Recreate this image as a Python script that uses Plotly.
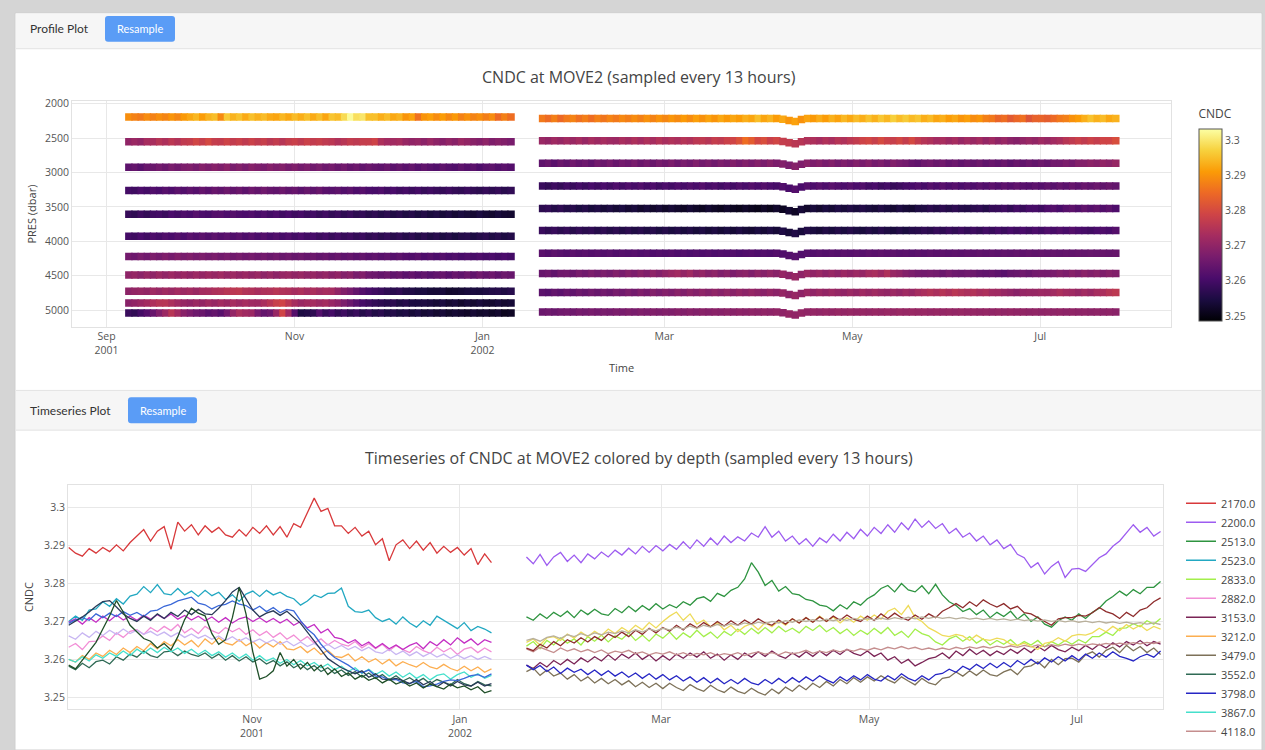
import pandas as pd
import plotly.graph_objects as go

W, H = 1265, 750

# ---------------- data ----------------
dep1_start = "2001-09-08 06:00"
dep2_start = "2002-01-20 12:00"
step = "2D"

# tick labels
profile_tick_dates = ["2001-09-01", "2001-11-01", "2002-01-01", "2002-03-01", "2002-05-01", "2002-07-01"]
profile_tick_text = ["Sep<br>2001", "Nov", "Jan<br>2002", "Mar", "May", "Jul"]
ts_tick_dates = ["2001-11-01", "2002-01-01", "2002-03-01", "2002-05-01", "2002-07-01"]
ts_tick_text = ["Nov<br>2001", "Jan<br>2002", "Mar", "May", "Jul"]

# deployment 1 (Sep 2001 - Jan 2002)
cndc_2170 = [3.2895, 3.2880, 3.2872, 3.2892, 3.2880, 3.2895, 3.2884, 3.2902, 3.2886, 3.2908,
             3.2925, 3.2942, 3.2912, 3.2938, 3.2950, 3.2890, 3.2962, 3.2938, 3.2955, 3.2928,
             3.2952, 3.2935, 3.2948, 3.2928, 3.2922, 3.2942, 3.2925, 3.2948, 3.2932, 3.2952,
             3.2928, 3.2950, 3.2922, 3.2958, 3.2948, 3.2985, 3.3025, 3.2990, 3.2998, 3.2952,
             3.2952, 3.2932, 3.2948, 3.2925, 3.2938, 3.2902, 3.2918, 3.2860, 3.2902, 3.2915,
             3.2892, 3.2912, 3.2888, 3.2908, 3.2880, 3.2898, 3.2882, 3.2895, 3.2875, 3.2892,
             3.2850, 3.2878, 3.2855]
cndc_2523 = [3.2700, 3.2714, 3.2703, 3.2730, 3.2733, 3.2752, 3.2740, 3.2760, 3.2746, 3.2767,
             3.2772, 3.2792, 3.2776, 3.2797, 3.2773, 3.2770, 3.2787, 3.2770, 3.2780, 3.2766,
             3.2782, 3.2768, 3.2777, 3.2758, 3.2770, 3.2753, 3.2772, 3.2780, 3.2766, 3.2782,
             3.2770, 3.2777, 3.2766, 3.2760, 3.2743, 3.2754, 3.2770, 3.2763, 3.2774, 3.2775,
             3.2788, 3.2740, 3.2726, 3.2724, 3.2730, 3.2710, 3.2700, 3.2707, 3.2693, 3.2712,
             3.2696, 3.2685, 3.2702, 3.2690, 3.2714, 3.2703, 3.2690, 3.2681, 3.2697, 3.2676,
             3.2687, 3.2680, 3.2670]
cndc_2882 = [3.2632, 3.2642, 3.2626, 3.2647, 3.2648, 3.2662, 3.2650, 3.2670, 3.2658, 3.2674,
             3.2678, 3.2666, 3.2684, 3.2673, 3.2687, 3.2676, 3.2692, 3.2670, 3.2682, 3.2668,
             3.2687, 3.2676, 3.2668, 3.2684, 3.2673, 3.2682, 3.2666, 3.2678, 3.2663, 3.2674,
             3.2658, 3.2670, 3.2653, 3.2664, 3.2648, 3.2660, 3.2643, 3.2654, 3.2638, 3.2650,
             3.2640, 3.2635, 3.2647, 3.2630, 3.2642, 3.2628, 3.2640, 3.2623, 3.2637, 3.2626,
             3.2618, 3.2634, 3.2623, 3.2616, 3.2632, 3.2620, 3.2630, 3.2613, 3.2627, 3.2632,
             3.2618, 3.2630, 3.2620]
cndc_3212 = [3.2600, 3.2593, 3.2610, 3.2600, 3.2617, 3.2608, 3.2624, 3.2613, 3.2630, 3.2618,
             3.2634, 3.2623, 3.2642, 3.2628, 3.2647, 3.2636, 3.2652, 3.2638, 3.2650, 3.2633,
             3.2654, 3.2640, 3.2657, 3.2643, 3.2638, 3.2652, 3.2636, 3.2647, 3.2630, 3.2644,
             3.2633, 3.2647, 3.2628, 3.2625, 3.2634, 3.2618, 3.2630, 3.2613, 3.2624, 3.2608,
             3.2605, 3.2614, 3.2596, 3.2607, 3.2593, 3.2602, 3.2588, 3.2600, 3.2583, 3.2594,
             3.2586, 3.2580, 3.2592, 3.2580, 3.2575, 3.2587, 3.2576, 3.2570, 3.2582, 3.2570,
             3.2580, 3.2566, 3.2575]
cndc_3552 = [3.2582, 3.2573, 3.2590, 3.2578, 3.2594, 3.2598, 3.2588, 3.2607, 3.2598, 3.2614,
             3.2606, 3.2622, 3.2610, 3.2605, 3.2620, 3.2622, 3.2610, 3.2622, 3.2613, 3.2608,
             3.2617, 3.2603, 3.2614, 3.2598, 3.2610, 3.2596, 3.2607, 3.2593, 3.2602, 3.2588,
             3.2597, 3.2583, 3.2594, 3.2578, 3.2588, 3.2573, 3.2584, 3.2568, 3.2578, 3.2563,
             3.2572, 3.2558, 3.2568, 3.2553, 3.2564, 3.2550, 3.2560, 3.2546, 3.2557, 3.2543,
             3.2552, 3.2540, 3.2550, 3.2536, 3.2547, 3.2540, 3.2533, 3.2547, 3.2536, 3.2530,
             3.2542, 3.2533, 3.2530]
cndc_3867 = [3.2600, 3.2593, 3.2607, 3.2596, 3.2612, 3.2603, 3.2617, 3.2608, 3.2622, 3.2610,
             3.2627, 3.2616, 3.2630, 3.2618, 3.2632, 3.2620, 3.2630, 3.2616, 3.2627, 3.2613,
             3.2624, 3.2610, 3.2620, 3.2606, 3.2617, 3.2603, 3.2614, 3.2598, 3.2610, 3.2596,
             3.2604, 3.2590, 3.2600, 3.2586, 3.2597, 3.2583, 3.2592, 3.2578, 3.2588, 3.2573,
             3.2582, 3.2568, 3.2578, 3.2563, 3.2574, 3.2560, 3.2570, 3.2556, 3.2567, 3.2553,
             3.2564, 3.2550, 3.2560, 3.2546, 3.2558, 3.2562, 3.2548, 3.2560, 3.2567, 3.2553,
             3.2562, 3.2550, 3.2558]
cndc_4172 = [3.2662, 3.2653, 3.2670, 3.2658, 3.2674, 3.2663, 3.2677, 3.2666, 3.2680, 3.2668,
             3.2677, 3.2666, 3.2674, 3.2663, 3.2672, 3.2660, 3.2670, 3.2658, 3.2667, 3.2656,
             3.2664, 3.2653, 3.2662, 3.2650, 3.2660, 3.2648, 3.2657, 3.2646, 3.2654, 3.2643,
             3.2652, 3.2640, 3.2648, 3.2636, 3.2646, 3.2634, 3.2642, 3.2630, 3.2640, 3.2628,
             3.2637, 3.2626, 3.2634, 3.2623, 3.2632, 3.2620, 3.2616, 3.2627, 3.2613, 3.2622,
             3.2610, 3.2620, 3.2608, 3.2617, 3.2606, 3.2614, 3.2603, 3.2612, 3.2602, 3.2610,
             3.2600, 3.2608, 3.2600]
cndc_4432 = [3.2698, 3.2707, 3.2693, 3.2710, 3.2698, 3.2714, 3.2702, 3.2717, 3.2704, 3.2714,
             3.2703, 3.2716, 3.2706, 3.2718, 3.2708, 3.2720, 3.2706, 3.2716, 3.2704, 3.2714,
             3.2702, 3.2712, 3.2698, 3.2710, 3.2696, 3.2707, 3.2712, 3.2700, 3.2710, 3.2698,
             3.2708, 3.2696, 3.2706, 3.2690, 3.2700, 3.2683, 3.2692, 3.2670, 3.2680, 3.2658,
             3.2654, 3.2643, 3.2652, 3.2636, 3.2646, 3.2630, 3.2642, 3.2628, 3.2638, 3.2626,
             3.2637, 3.2644, 3.2628, 3.2647, 3.2636, 3.2652, 3.2638, 3.2657, 3.2643, 3.2654,
             3.2638, 3.2652, 3.2645]
cndc_4668 = [3.2695, 3.2704, 3.2710, 3.2703, 3.2720, 3.2710, 3.2722, 3.2713, 3.2726, 3.2716,
             3.2724, 3.2713, 3.2727, 3.2730, 3.2740, 3.2745, 3.2754, 3.2760, 3.2764, 3.2748,
             3.2744, 3.2733, 3.2742, 3.2745, 3.2754, 3.2746, 3.2742, 3.2730, 3.2740, 3.2726,
             3.2737, 3.2723, 3.2732, 3.2728, 3.2702, 3.2680, 3.2665, 3.2640, 3.2620, 3.2605,
             3.2595, 3.2585, 3.2572, 3.2565, 3.2572, 3.2556, 3.2554, 3.2546, 3.2547, 3.2538,
             3.2537, 3.2542, 3.2528, 3.2530, 3.2535, 3.2542, 3.2546, 3.2544, 3.2550, 3.2557,
             3.2560, 3.2553, 3.2562]
cndc_4834 = [3.2690, 3.2700, 3.2712, 3.2725, 3.2740, 3.2752, 3.2755, 3.2738, 3.2720, 3.2708,
             3.2700, 3.2714, 3.2703, 3.2720, 3.2708, 3.2724, 3.2713, 3.2730, 3.2718, 3.2732,
             3.2720, 3.2718, 3.2735, 3.2755, 3.2778, 3.2790, 3.2760, 3.2730, 3.2712, 3.2722,
             3.2728, 3.2716, 3.2727, 3.2710, 3.2695, 3.2672, 3.2650, 3.2625, 3.2602, 3.2590,
             3.2578, 3.2570, 3.2562, 3.2570, 3.2553, 3.2562, 3.2548, 3.2547, 3.2550, 3.2544,
             3.2536, 3.2547, 3.2533, 3.2542, 3.2528, 3.2540, 3.2530, 3.2542, 3.2533, 3.2530,
             3.2540, 3.2530, 3.2536]
cndc_4977 = [3.2585, 3.2575, 3.2598, 3.2620, 3.2645, 3.2680, 3.2715, 3.2755, 3.2725, 3.2690,
             3.2672, 3.2655, 3.2648, 3.2630, 3.2642, 3.2625, 3.2660, 3.2705, 3.2735, 3.2722,
             3.2715, 3.2668, 3.2640, 3.2652, 3.2710, 3.2790, 3.2720, 3.2620, 3.2548, 3.2555,
             3.2570, 3.2618, 3.2582, 3.2600, 3.2575, 3.2592, 3.2570, 3.2585, 3.2560, 3.2575,
             3.2555, 3.2565, 3.2548, 3.2558, 3.2545, 3.2552, 3.2538, 3.2548, 3.2535, 3.2542,
             3.2530, 3.2538, 3.2525, 3.2535, 3.2528, 3.2522, 3.2535, 3.2525, 3.2530, 3.2520,
             3.2528, 3.2512, 3.2518]

# deployment 2 (Jan 2002 - Jul 2002)
cndc_2200 = [3.2870, 3.2852, 3.2877, 3.2848, 3.2870, 3.2882, 3.2858, 3.2875, 3.2855, 3.2878,
             3.2865, 3.2883, 3.2870, 3.2888, 3.2875, 3.2893, 3.2878, 3.2898, 3.2882, 3.2900,
             3.2886, 3.2903, 3.2890, 3.2910, 3.2892, 3.2915, 3.2898, 3.2920, 3.2902, 3.2925,
             3.2908, 3.2923, 3.2912, 3.2933, 3.2922, 3.2950, 3.2922, 3.2938, 3.2912, 3.2925,
             3.2903, 3.2918, 3.2898, 3.2920, 3.2908, 3.2930, 3.2912, 3.2935, 3.2918, 3.2943,
             3.2925, 3.2948, 3.2932, 3.2955, 3.2935, 3.2960, 3.2942, 3.2970, 3.2948, 3.2965,
             3.2945, 3.2958, 3.2932, 3.2945, 3.2922, 3.2933, 3.2912, 3.2925, 3.2902, 3.2915,
             3.2892, 3.2903, 3.2877, 3.2868, 3.2842, 3.2855, 3.2825, 3.2845, 3.2858, 3.2816,
             3.2838, 3.2840, 3.2832, 3.2850, 3.2868, 3.2878, 3.2898, 3.2912, 3.2933, 3.2955,
             3.2935, 3.2948, 3.2925, 3.2937]
cndc_2513 = [3.2712, 3.2703, 3.2720, 3.2708, 3.2724, 3.2713, 3.2727, 3.2710, 3.2730, 3.2718,
             3.2732, 3.2720, 3.2716, 3.2734, 3.2723, 3.2740, 3.2726, 3.2742, 3.2730, 3.2747,
             3.2733, 3.2744, 3.2736, 3.2752, 3.2743, 3.2760, 3.2765, 3.2753, 3.2774, 3.2766,
             3.2782, 3.2790, 3.2812, 3.2855, 3.2830, 3.2795, 3.2808, 3.2780, 3.2792, 3.2773,
             3.2770, 3.2758, 3.2754, 3.2743, 3.2740, 3.2728, 3.2744, 3.2733, 3.2752, 3.2743,
             3.2760, 3.2770, 3.2787, 3.2795, 3.2778, 3.2800, 3.2783, 3.2778, 3.2794, 3.2773,
             3.2798, 3.2770, 3.2752, 3.2742, 3.2726, 3.2734, 3.2718, 3.2730, 3.2710, 3.2724,
             3.2713, 3.2727, 3.2706, 3.2720, 3.2700, 3.2712, 3.2693, 3.2685, 3.2702, 3.2712,
             3.2703, 3.2720, 3.2708, 3.2724, 3.2735, 3.2754, 3.2766, 3.2780, 3.2768, 3.2784,
             3.2773, 3.2790, 3.2790, 3.2805]
cndc_2833 = [3.2635, 3.2647, 3.2628, 3.2650, 3.2638, 3.2657, 3.2643, 3.2654, 3.2638, 3.2660,
             3.2648, 3.2664, 3.2646, 3.2662, 3.2653, 3.2670, 3.2650, 3.2664, 3.2648, 3.2667,
             3.2656, 3.2672, 3.2653, 3.2670, 3.2658, 3.2677, 3.2660, 3.2672, 3.2656, 3.2674,
             3.2663, 3.2680, 3.2666, 3.2682, 3.2668, 3.2684, 3.2670, 3.2687, 3.2673, 3.2682,
             3.2670, 3.2687, 3.2676, 3.2690, 3.2673, 3.2684, 3.2668, 3.2680, 3.2663, 3.2677,
             3.2666, 3.2682, 3.2668, 3.2684, 3.2663, 3.2674, 3.2658, 3.2680, 3.2668, 3.2662,
             3.2646, 3.2638, 3.2654, 3.2662, 3.2648, 3.2660, 3.2643, 3.2654, 3.2638, 3.2650,
             3.2640, 3.2652, 3.2636, 3.2647, 3.2638, 3.2650, 3.2633, 3.2647, 3.2638, 3.2650,
             3.2640, 3.2652, 3.2643, 3.2660, 3.2660, 3.2672, 3.2663, 3.2682, 3.2683, 3.2694,
             3.2686, 3.2702, 3.2693, 3.2708]
cndc_3153 = [3.2585, 3.2576, 3.2592, 3.2580, 3.2597, 3.2586, 3.2600, 3.2588, 3.2604, 3.2593,
             3.2607, 3.2596, 3.2612, 3.2598, 3.2614, 3.2603, 3.2617, 3.2600, 3.2612, 3.2596,
             3.2610, 3.2598, 3.2614, 3.2603, 3.2617, 3.2606, 3.2620, 3.2603, 3.2614, 3.2598,
             3.2612, 3.2600, 3.2617, 3.2606, 3.2620, 3.2608, 3.2622, 3.2610, 3.2603, 3.2617,
             3.2606, 3.2620, 3.2608, 3.2622, 3.2610, 3.2624, 3.2613, 3.2627, 3.2616, 3.2610,
             3.2622, 3.2608, 3.2617, 3.2598, 3.2607, 3.2590, 3.2600, 3.2583, 3.2592, 3.2602,
             3.2606, 3.2617, 3.2603, 3.2622, 3.2610, 3.2627, 3.2613, 3.2624, 3.2610, 3.2622,
             3.2613, 3.2627, 3.2616, 3.2630, 3.2618, 3.2634, 3.2623, 3.2637, 3.2626, 3.2620,
             3.2632, 3.2623, 3.2637, 3.2626, 3.2640, 3.2630, 3.2644, 3.2633, 3.2647, 3.2638,
             3.2650, 3.2636, 3.2647, 3.2640]
cndc_3479 = [3.2568, 3.2577, 3.2558, 3.2572, 3.2556, 3.2564, 3.2548, 3.2560, 3.2543, 3.2554,
             3.2538, 3.2550, 3.2536, 3.2547, 3.2533, 3.2544, 3.2528, 3.2540, 3.2526, 3.2537,
             3.2523, 3.2537, 3.2526, 3.2518, 3.2534, 3.2523, 3.2516, 3.2532, 3.2520, 3.2513,
             3.2527, 3.2516, 3.2510, 3.2524, 3.2513, 3.2506, 3.2522, 3.2510, 3.2527, 3.2516,
             3.2532, 3.2520, 3.2537, 3.2526, 3.2542, 3.2530, 3.2547, 3.2536, 3.2552, 3.2540,
             3.2554, 3.2543, 3.2557, 3.2546, 3.2538, 3.2554, 3.2543, 3.2533, 3.2550, 3.2538,
             3.2533, 3.2550, 3.2553, 3.2567, 3.2556, 3.2570, 3.2558, 3.2572, 3.2560, 3.2556,
             3.2567, 3.2574, 3.2560, 3.2580, 3.2583, 3.2594, 3.2578, 3.2600, 3.2586, 3.2602,
             3.2603, 3.2593, 3.2612, 3.2620, 3.2606, 3.2624, 3.2632, 3.2618, 3.2637, 3.2623,
             3.2634, 3.2618, 3.2630, 3.2613]
cndc_3798 = [3.2585, 3.2573, 3.2584, 3.2568, 3.2580, 3.2563, 3.2577, 3.2566, 3.2574, 3.2560,
             3.2572, 3.2558, 3.2570, 3.2556, 3.2567, 3.2553, 3.2564, 3.2550, 3.2562, 3.2548,
             3.2560, 3.2546, 3.2557, 3.2543, 3.2554, 3.2540, 3.2552, 3.2538, 3.2550, 3.2536,
             3.2547, 3.2536, 3.2550, 3.2538, 3.2533, 3.2547, 3.2536, 3.2550, 3.2538, 3.2552,
             3.2540, 3.2554, 3.2543, 3.2557, 3.2546, 3.2538, 3.2554, 3.2543, 3.2557, 3.2546,
             3.2560, 3.2548, 3.2543, 3.2557, 3.2546, 3.2562, 3.2550, 3.2543, 3.2557, 3.2546,
             3.2560, 3.2563, 3.2574, 3.2566, 3.2582, 3.2573, 3.2587, 3.2576, 3.2590, 3.2578,
             3.2592, 3.2580, 3.2597, 3.2586, 3.2600, 3.2588, 3.2604, 3.2593, 3.2607, 3.2596,
             3.2610, 3.2598, 3.2614, 3.2603, 3.2617, 3.2606, 3.2620, 3.2608, 3.2603, 3.2596,
             3.2607, 3.2614, 3.2606, 3.2622]
cndc_4118 = [3.2628, 3.2620, 3.2632, 3.2625, 3.2618, 3.2630, 3.2622, 3.2628, 3.2620, 3.2626,
             3.2618, 3.2625, 3.2615, 3.2622, 3.2618, 3.2624, 3.2615, 3.2620, 3.2612, 3.2618,
             3.2614, 3.2620, 3.2612, 3.2618, 3.2610, 3.2616, 3.2612, 3.2618, 3.2610, 3.2615,
             3.2612, 3.2618, 3.2610, 3.2616, 3.2620, 3.2614, 3.2618, 3.2612, 3.2620, 3.2615,
             3.2618, 3.2624, 3.2616, 3.2622, 3.2618, 3.2625, 3.2620, 3.2626, 3.2622, 3.2628,
             3.2624, 3.2630, 3.2625, 3.2632, 3.2628, 3.2634, 3.2628, 3.2632, 3.2626, 3.2630,
             3.2625, 3.2630, 3.2626, 3.2632, 3.2628, 3.2633, 3.2629, 3.2634, 3.2630, 3.2635,
             3.2631, 3.2636, 3.2632, 3.2637, 3.2633, 3.2638, 3.2634, 3.2639, 3.2635, 3.2640,
             3.2636, 3.2640, 3.2637, 3.2641, 3.2638, 3.2642, 3.2639, 3.2643, 3.2640, 3.2644,
             3.2641, 3.2645, 3.2642, 3.2646]
cndc_4412 = [3.2645, 3.2654, 3.2638, 3.2657, 3.2660, 3.2650, 3.2667, 3.2656, 3.2672, 3.2660,
             3.2674, 3.2663, 3.2680, 3.2668, 3.2684, 3.2673, 3.2690, 3.2678, 3.2697, 3.2683,
             3.2700, 3.2714, 3.2725, 3.2703, 3.2720, 3.2693, 3.2704, 3.2686, 3.2697, 3.2678,
             3.2690, 3.2673, 3.2687, 3.2694, 3.2678, 3.2697, 3.2686, 3.2702, 3.2690, 3.2707,
             3.2696, 3.2710, 3.2698, 3.2714, 3.2700, 3.2712, 3.2696, 3.2710, 3.2698, 3.2714,
             3.2703, 3.2717, 3.2706, 3.2727, 3.2735, 3.2718, 3.2742, 3.2710, 3.2700, 3.2683,
             3.2674, 3.2663, 3.2660, 3.2666, 3.2662, 3.2650, 3.2664, 3.2653, 3.2650, 3.2656,
             3.2652, 3.2640, 3.2637, 3.2643, 3.2634, 3.2626, 3.2642, 3.2646, 3.2657, 3.2648,
             3.2662, 3.2666, 3.2664, 3.2670, 3.2682, 3.2673, 3.2687, 3.2676, 3.2692, 3.2680,
             3.2690, 3.2676, 3.2687, 3.2680]
cndc_4683 = [3.2630, 3.2623, 3.2640, 3.2630, 3.2647, 3.2636, 3.2652, 3.2643, 3.2657, 3.2646,
             3.2660, 3.2650, 3.2667, 3.2658, 3.2672, 3.2660, 3.2677, 3.2666, 3.2682, 3.2670,
             3.2684, 3.2674, 3.2690, 3.2678, 3.2694, 3.2683, 3.2697, 3.2686, 3.2700, 3.2688,
             3.2702, 3.2690, 3.2704, 3.2693, 3.2707, 3.2696, 3.2690, 3.2704, 3.2693, 3.2707,
             3.2696, 3.2710, 3.2698, 3.2712, 3.2700, 3.2714, 3.2703, 3.2717, 3.2706, 3.2700,
             3.2714, 3.2703, 3.2720, 3.2708, 3.2722, 3.2710, 3.2703, 3.2717, 3.2706, 3.2720,
             3.2710, 3.2727, 3.2736, 3.2747, 3.2736, 3.2752, 3.2740, 3.2757, 3.2746, 3.2738,
             3.2747, 3.2733, 3.2740, 3.2723, 3.2720, 3.2710, 3.2702, 3.2690, 3.2707, 3.2710,
             3.2710, 3.2716, 3.2714, 3.2723, 3.2737, 3.2726, 3.2720, 3.2708, 3.2724, 3.2713,
             3.2730, 3.2736, 3.2752, 3.2762]
cndc_4963 = [3.2650, 3.2655, 3.2648, 3.2658, 3.2662, 3.2655, 3.2665, 3.2660, 3.2668, 3.2662,
             3.2670, 3.2665, 3.2672, 3.2668, 3.2675, 3.2670, 3.2678, 3.2672, 3.2680, 3.2675,
             3.2682, 3.2678, 3.2685, 3.2680, 3.2688, 3.2682, 3.2690, 3.2685, 3.2692, 3.2688,
             3.2694, 3.2690, 3.2696, 3.2692, 3.2698, 3.2694, 3.2700, 3.2696, 3.2702, 3.2698,
             3.2704, 3.2700, 3.2705, 3.2701, 3.2706, 3.2702, 3.2707, 3.2703, 3.2708, 3.2704,
             3.2708, 3.2704, 3.2709, 3.2705, 3.2710, 3.2706, 3.2711, 3.2707, 3.2712, 3.2708,
             3.2712, 3.2708, 3.2711, 3.2707, 3.2710, 3.2706, 3.2709, 3.2705, 3.2708, 3.2704,
             3.2707, 3.2703, 3.2706, 3.2702, 3.2705, 3.2701, 3.2704, 3.2700, 3.2703, 3.2699,
             3.2702, 3.2698, 3.2701, 3.2697, 3.2700, 3.2696, 3.2699, 3.2695, 3.2698, 3.2694,
             3.2697, 3.2693, 3.2696, 3.2692]

# instrument depth labels, deployment, mean pressure (dbar), values
instruments = [
    ("2170.0", 1, 2193, cndc_2170), ("2200.0", 2, 2216, cndc_2200),
    ("2513.0", 2, 2539, cndc_2513), ("2523.0", 1, 2554, cndc_2523),
    ("2833.0", 2, 2866, cndc_2833), ("2882.0", 1, 2923, cndc_2882),
    ("3153.0", 2, 3197, cndc_3153), ("3212.0", 1, 3261, cndc_3212),
    ("3479.0", 2, 3524, cndc_3479), ("3552.0", 1, 3607, cndc_3552),
    ("3798.0", 2, 3842, cndc_3798), ("3867.0", 1, 3924, cndc_3867),
    ("4118.0", 2, 4174, cndc_4118), ("4172.0", 1, 4221, cndc_4172),
    ("4412.0", 2, 4467, cndc_4412), ("4432.0", 1, 4487, cndc_4432),
    ("4668.0", 1, 4726, cndc_4668), ("4683.0", 2, 4741, cndc_4683),
    ("4834.0", 1, 4895, cndc_4834), ("4963.0", 2, 5025, cndc_4963),
    ("4977.0", 1, 5040, cndc_4977),
]
legend_shown = ["2170.0", "2200.0", "2513.0", "2523.0", "2833.0", "2882.0", "3153.0",
                "3212.0", "3479.0", "3552.0", "3798.0", "3867.0", "4118.0"]
# mooring knock-down in deployment 2 (extra dbar at sample index)
dip2_index = [39, 40, 41, 42]
dip2_dbar = [10, 30, 45, 15]

# ---------------- styles ----------------
line_colors = {
    "2170.0": "#d8393b", "2200.0": "#9d5cf0", "2513.0": "#2e9440", "2523.0": "#22a8c2",
    "2833.0": "#a3ef4b", "2882.0": "#f28ed6", "3153.0": "#7b2456", "3212.0": "#fcae50",
    "3479.0": "#7d7158", "3552.0": "#2f6a55", "3798.0": "#2626c4", "3867.0": "#45e0cc",
    "4118.0": "#c58e8e", "4172.0": "#c8b6f2", "4412.0": "#eedb5a", "4432.0": "#c42ec4",
    "4668.0": "#3a68d8", "4683.0": "#8e2c2c", "4834.0": "#2a3a58", "4963.0": "#b9b09c",
    "4977.0": "#1f4f28",
}

FONT = "Open Sans"
def px(x):
    return x / W
def py(y):
    return 1 - y / H

fig = go.Figure()

# profile plot (top)
for name, dep, pres, vals in instruments:
    start = dep1_start if dep == 1 else dep2_start
    t = pd.date_range(start, periods=len(vals), freq=step)
    p = [pres] * len(vals)
    if dep == 2:
        for k, d in zip(dip2_index, dip2_dbar):
            if k < len(p):
                p[k] = pres + d
    fig.add_trace(go.Scatter(
        x=t, y=p, mode="markers", showlegend=False, name=name,
        marker=dict(size=7.5, symbol="square", color=vals, coloraxis="coloraxis",
                    line=dict(width=0)),
        xaxis="x", yaxis="y", hoverinfo="skip"))

# timeseries plot (bottom)
for name, dep, pres, vals in instruments:
    start = dep1_start if dep == 1 else dep2_start
    t = pd.date_range(start, periods=len(vals), freq=step)
    fig.add_trace(go.Scatter(
        x=t, y=vals, mode="lines", name=name,
        showlegend=name in legend_shown,
        line=dict(color=line_colors[name], width=1.3),
        xaxis="x2", yaxis="y2"))

grid = "#e8e8e8"
axis_common = dict(showgrid=True, gridcolor=grid, showline=True, linecolor="#e2e2e2",
                   mirror=True, zeroline=False, ticks="",
                   tickfont=dict(family=FONT, size=10.5, color="#555"))

shapes = [
    dict(type="rect", xref="paper", yref="paper", x0=px(15), x1=px(1262), y0=0, y1=py(8),
         fillcolor="white", line=dict(color="#cfcfcf", width=1), layer="below"),
    dict(type="rect", xref="paper", yref="paper", x0=px(16), x1=px(1261), y0=py(44), y1=py(8.5),
         fillcolor="#f6f6f6", line=dict(width=0), layer="below"),
    dict(type="line", xref="paper", yref="paper", x0=px(16), x1=px(1261), y0=py(44), y1=py(44),
         line=dict(color="#e3e3e3", width=1), layer="below"),
    dict(type="rect", xref="paper", yref="paper", x0=px(16), x1=px(1261), y0=py(428), y1=py(388),
         fillcolor="#f6f6f6", line=dict(width=0), layer="below"),
    dict(type="line", xref="paper", yref="paper", x0=px(16), x1=px(1261), y0=py(388), y1=py(388),
         line=dict(color="#e3e3e3", width=1), layer="below"),
    dict(type="line", xref="paper", yref="paper", x0=px(16), x1=px(1261), y0=py(428), y1=py(428),
         line=dict(color="#e3e3e3", width=1), layer="below"),
]

def rounded(x0, y0, x1, y1, r=3):
    X0, X1, Y0, Y1 = px(x0), px(x1), py(y0), py(y1)
    rx, ry = r / W, r / H
    return (f"M {X0+rx},{Y0} L {X1-rx},{Y0} Q {X1},{Y0} {X1},{Y0-ry} "
            f"L {X1},{Y1+ry} Q {X1},{Y1} {X1-rx},{Y1} L {X0+rx},{Y1} "
            f"Q {X0},{Y1} {X0},{Y1+ry} L {X0},{Y0-ry} Q {X0},{Y0} {X0+rx},{Y0} Z")

for (bx0, by0, bx1, by1) in [(105, 11, 175, 37), (128, 395, 197, 421)]:
    shapes.append(dict(type="path", xref="paper", yref="paper", path=rounded(bx0, by0, bx1, by1),
                       fillcolor="#5a9cf6", line=dict(width=0), layer="below"))

annotations = [
    dict(text="Profile Plot", x=px(28), y=py(24), xanchor="left", yanchor="middle",
         font=dict(family="Lato", size=12, color="#333")),
    dict(text="Resample", x=px(140), y=py(24), xanchor="center", yanchor="middle",
         font=dict(family="Lato", size=11, color="white")),
    dict(text="Timeseries Plot", x=px(28), y=py(408), xanchor="left", yanchor="middle",
         font=dict(family="Lato", size=12, color="#333")),
    dict(text="Resample", x=px(162.5), y=py(408), xanchor="center", yanchor="middle",
         font=dict(family="Lato", size=11, color="white")),
    dict(text="CNDC at MOVE2 (sampled every 13 hours)", x=px(639), y=py(72),
         xanchor="center", yanchor="middle", font=dict(family=FONT, size=16, color="#444")),
    dict(text="Timeseries of CNDC at MOVE2 colored by depth (sampled every 13 hours)",
         x=px(639), y=py(456), xanchor="center", yanchor="middle",
         font=dict(family=FONT, size=16, color="#444")),
]
for a in annotations:
    a.update(xref="paper", yref="paper", showarrow=False)

fig.update_layout(
    width=W, height=H, margin=dict(l=0, r=0, t=0, b=0),
    paper_bgcolor="#d5d5d5", plot_bgcolor="white",
    font=dict(family=FONT, color="#444"),
    shapes=shapes, annotations=annotations,
    xaxis=dict(domain=[px(72), px(1171)], anchor="y",
               range=["2001-08-20 19:00", "2002-08-12 10:00"],
               tickmode="array", tickvals=profile_tick_dates, ticktext=profile_tick_text,
               title=dict(text="Time", font=dict(size=11, color="#444"), standoff=8),
               **axis_common),
    yaxis=dict(domain=[py(324), py(97)], anchor="x", range=[5241, 1967],
               tick0=2000, dtick=500,
               title=dict(text="PRES (dbar)", font=dict(size=11, color="#444"), standoff=6),
               **axis_common),
    xaxis2=dict(domain=[px(68), px(1163)], anchor="y2",
                range=["2001-09-08 01:00", "2002-07-26 05:00"],
                tickmode="array", tickvals=ts_tick_dates, ticktext=ts_tick_text,
                **axis_common),
    yaxis2=dict(domain=[py(709), py(483)], anchor="x2", range=[3.24686, 3.30602],
                tick0=3.25, dtick=0.01,
                title=dict(text="CNDC", font=dict(size=11, color="#444"), standoff=8),
                **axis_common),
    coloraxis=dict(
        colorscale="Inferno", cmin=3.2486, cmax=3.3032,
        colorbar=dict(
            title=dict(text="CNDC", side="top", font=dict(family=FONT, size=12, color="#444")),
            x=px(1199), xanchor="left", xpad=0,
            y=py(318), yanchor="bottom", ypad=0,
            len=214, lenmode="pixels", thickness=23, thicknessmode="pixels",
            tick0=3.25, dtick=0.01, ticks="",
            tickfont=dict(family=FONT, size=10.5, color="#555"),
            outlinewidth=1, outlinecolor="#555")),
    legend=dict(x=px(1181), y=py(487), xanchor="left", yanchor="top",
                font=dict(family=FONT, size=11, color="#444"),
                bgcolor="rgba(0,0,0,0)", tracegroupgap=0),
    showlegend=True,
)

fig.write_html("out.html", config={"displayModeBar": False},
               post_script="document.body.style.margin='0';document.body.style.overflow='hidden';")
